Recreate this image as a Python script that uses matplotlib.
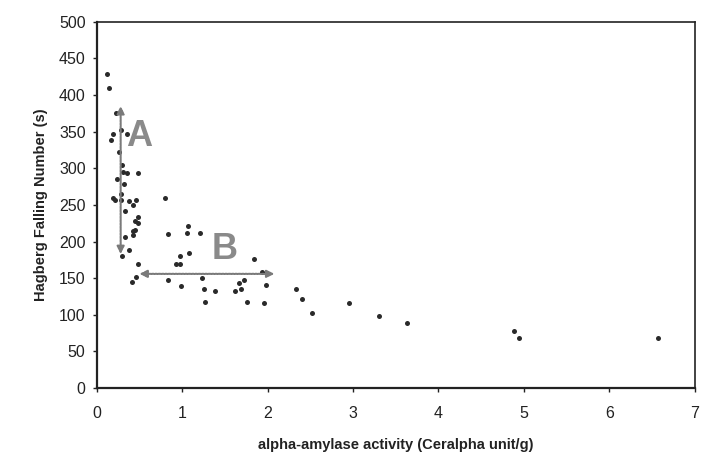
import matplotlib.pyplot as plt

plt.rcParams['font.family'] = ['Liberation Sans', 'DejaVu Sans']

# alpha-amylase activity (Ceralpha unit/g) vs Hagberg Falling Number (s)
amylase = [0.125, 0.14, 0.22, 0.29, 0.19, 0.355, 0.17,
           0.26, 0.30, 0.31, 0.36, 0.48, 0.24, 0.32, 0.29, 0.19, 0.21, 0.28,
           0.38, 0.46, 0.43, 0.80, 0.33, 0.48, 0.45, 0.48, 0.42, 0.45, 0.43,
           0.83, 0.33, 1.07, 1.06, 1.21, 0.38, 0.30, 1.08, 0.97, 0.93, 0.98,
           0.48, 1.84, 0.46, 0.41, 0.83, 1.23, 0.99, 1.26, 1.38, 1.62, 1.67,
           1.72, 1.69, 1.98, 1.93, 1.27, 1.76, 1.96,
           2.33, 2.40, 2.52, 2.95, 3.31, 3.63, 4.89, 4.94, 6.57]
falling = [429, 410, 376, 353, 347, 347, 339,
           322, 305, 295, 294, 294, 285, 279, 265, 259, 257, 257,
           255, 257, 250, 259, 242, 233, 228, 226, 214, 216, 209,
           210, 206, 221, 212, 212, 189, 180, 184, 180, 169, 169,
           169, 176, 152, 145, 148, 150, 140, 135, 133, 133, 143,
           148, 135, 141, 159, 118, 118, 116,
           135, 122, 102, 116, 98, 89, 78, 69, 68]

xticks = [0, 1, 2, 3, 4, 5, 6, 7]
yticks = [0, 50, 100, 150, 200, 250, 300, 350, 400, 450, 500]

# annotation arrows: A (vertical), B (horizontal)
arrow_a = [(0.28, 183), (0.28, 385)]
arrow_b = [(0.50, 156), (2.08, 156)]

fig = plt.figure(figsize=(7.06, 4.55), dpi=100)
ax = fig.add_axes([0.137, 0.147, 0.847, 0.805])

ax.plot(amylase, falling, 'o', color='#2a2a2a', markersize=3.6, markeredgewidth=0)

arrowstyle = dict(arrowstyle='<|-|>', color='#7a7a7a', lw=1.5, ls=(0, (1, 0.6)),
                  mutation_scale=11, shrinkA=0, shrinkB=0)
ax.annotate('', xy=arrow_a[1], xytext=arrow_a[0], arrowprops=arrowstyle)
ax.annotate('', xy=arrow_b[1], xytext=arrow_b[0], arrowprops=arrowstyle)
ax.text(0.50, 344, 'A', fontsize=26, fontweight='bold', color='#8a8a8a',
        ha='center', va='center')
ax.text(1.50, 189, 'B', fontsize=26, fontweight='bold', color='#8a8a8a',
        ha='center', va='center')

ax.set_xlim(0, 7)
ax.set_ylim(0, 500)
ax.set_xticks(xticks)
ax.set_yticks(yticks)
ax.tick_params(labelsize=11.5, direction='out', length=3, width=1,
               colors='#222222')
ax.tick_params(axis='x', pad=10)
ax.tick_params(axis='y', pad=5)
for side in ['left', 'bottom']:
    ax.spines[side].set_linewidth(1.6)
for side in ['top', 'right']:
    ax.spines[side].set_linewidth(1.2)
for s in ax.spines.values():
    s.set_color('#222222')

ax.set_xlabel('alpha-amylase activity (Ceralpha unit/g)', fontsize=10.5,
              fontweight='bold', color='#222222', labelpad=12)
ax.set_ylabel('Hagberg Falling Number (s)', fontsize=10.5,
              fontweight='bold', color='#222222', labelpad=8)

fig.savefig('out.png', dpi=100)
